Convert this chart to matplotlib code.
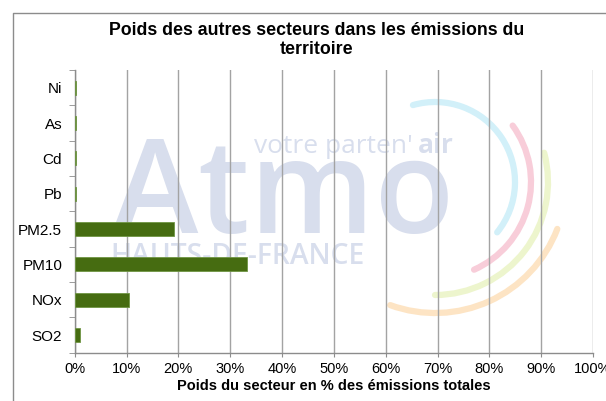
import matplotlib
matplotlib.use("Agg")
import matplotlib.pyplot as plt
from matplotlib.patches import Arc
from matplotlib.ticker import FuncFormatter, MultipleLocator

plt.rcParams["font.family"] = ["Liberation Sans", "DejaVu Sans"]

# data (top to bottom as shown)
polluants = ["Ni", "As", "Cd", "Pb", "PM2.5", "PM10", "NOx", "SO2"]
poids = [0.3, 0.3, 0.3, 0.2, 19.2, 33.3, 10.5, 1.0]

title = "Poids des autres secteurs dans les émissions du\nterritoire"
xlabel = "Poids du secteur en % des émissions totales"

W, H = 606, 401
fig = plt.figure(figsize=(W / 100, H / 100), dpi=100)

# background layer: frame + faded logo, in pixel coords (y up)
bg = fig.add_axes([0, 0, 1, 1], zorder=0)
bg.set_xlim(0, W)
bg.set_ylim(0, H)
bg.axis("off")

bg.plot([12.5, 12.5, W], [0, H - 12.5, H - 12.5], color="#8c8c8c", lw=1.0)

wm = "#d8deed"
bg.text(112, H - 233, "Atmo", fontsize=94, family="Open Sans", fontweight="semibold",
        color=wm, ha="left", va="baseline")
bg.text(413, H - 153, "votre parten'", fontsize=19, family="Open Sans",
        color=wm, ha="right", va="baseline")
bg.text(418, H - 153, "air", fontsize=19, family="Open Sans", fontweight="bold",
        color=wm, ha="left", va="baseline")
bg.text(110, H - 264, "HAUTS-DE-FRANCE", fontsize=20.3, family="Open Sans",
        fontweight="semibold", color=wm, ha="left", va="baseline")

arcs = [
    (80, -39, 106, "#d2f0f9"),
    (96, -66, 36, "#f8cdd9"),
    (113, -90, 15, "#edf5cd"),
    (131, -110, -21, "#fde4c4"),
]
for r, t1, t2, c in arcs:
    a = Arc((435, H - 182), 2 * r, 2 * r, theta1=t1, theta2=t2,
            color=c, lw=4.5, capstyle="round")
    bg.add_patch(a)

# main chart
ax = fig.add_axes([74.7 / W, 1 - 352.7 / H, (593 - 74.7) / W, (352.7 - 70) / H], zorder=1)
ax.patch.set_alpha(0)

ypos = list(range(len(polluants)))
ax.barh(ypos, poids, height=0.39, color="#466c11", edgecolor="#6f9544",
        linewidth=0.6, zorder=3)

ax.set_xlim(0, 100)
ax.set_ylim(len(polluants) - 0.5, -0.5)
ax.xaxis.set_major_locator(MultipleLocator(10))
ax.xaxis.set_major_formatter(FuncFormatter(lambda v, p: f"{v:.0f}%"))
ax.grid(axis="x", color="#a3a3a3", lw=1.0, zorder=1)
ax.set_axisbelow(True)

ax.set_yticks(ypos)
ax.set_yticklabels(polluants)
ax.set_yticks([i - 0.5 for i in range(len(polluants) + 1)], minor=True)
ax.tick_params(axis="y", which="major", length=0, pad=9, labelsize=11)
ax.tick_params(axis="y", which="minor", length=4, color="#8c8c8c", direction="out")
ax.tick_params(axis="x", length=3, color="#8c8c8c", pad=4, labelsize=10.5)

for s in ["top", "right"]:
    ax.spines[s].set_visible(False)
for s in ["left", "bottom"]:
    ax.spines[s].set_color("#8c8c8c")
    ax.spines[s].set_linewidth(1.0)

ax.set_xlabel(xlabel, fontsize=10.5, fontweight="bold", labelpad=2)
fig.text(317 / W, 1 - 40 / H, title, ha="center", va="center",
         fontsize=12.8, fontweight="bold", linespacing=1.1)

fig.savefig("out.png", dpi=100)
